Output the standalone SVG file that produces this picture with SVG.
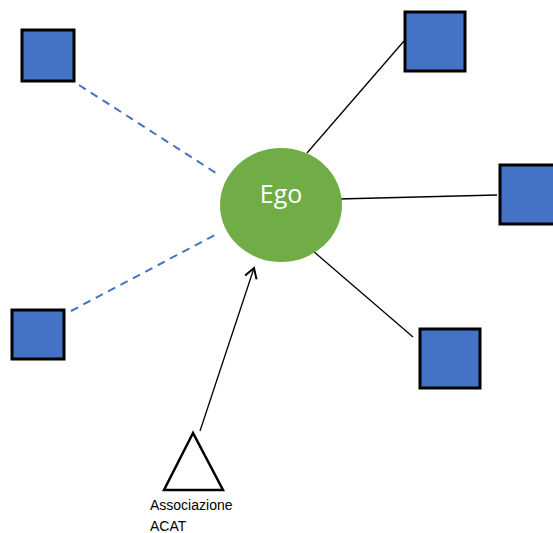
<svg xmlns="http://www.w3.org/2000/svg" width="553" height="533" viewBox="0 0 553 533">
  <style>
    .sq { fill: #4472C4; stroke: #000; stroke-width: 3; }
    .solid { stroke: #000; stroke-width: 1.3; fill: none; }
    .dash { stroke: #4472C4; stroke-width: 2; stroke-dasharray: 8 6; fill: none; }
    .lbl { font-family: "Liberation Sans", Arial, sans-serif; font-size: 14px; fill: #000; }
    .ego { font-family: "Open Sans", "Liberation Sans", sans-serif; font-size: 25px; fill: #fff; }
  </style>
  <defs>
    <marker id="open" markerWidth="14" markerHeight="14" refX="11" refY="7" orient="auto" markerUnits="userSpaceOnUse">
      <path d="M1,1 L11,7 L1,13" fill="none" stroke="#000" stroke-width="2"/>
    </marker>
  </defs>
  <rect width="553" height="533" fill="#fff"/>
  <g id="connectors">
    <line class="dash" x1="79" y1="85" x2="216" y2="173"/>
    <line class="dash" x1="71" y1="311" x2="215" y2="235"/>
    <line class="solid" x1="307" y1="153" x2="404" y2="41"/>
    <line class="solid" x1="338" y1="199" x2="497" y2="195"/>
    <line class="solid" x1="313" y1="251" x2="413" y2="337"/>
    <line class="solid" stroke-width="2" x1="200" y1="431" x2="254" y2="268" marker-end="url(#open)"/>
  </g>
  <g id="ego">
    <ellipse cx="281" cy="205" rx="61" ry="57" fill="#70AD47"/>
    <text class="ego" x="281" y="203" text-anchor="middle">Ego</text>
  </g>
  <g id="alter-top-left"><rect class="sq" x="22" y="30" width="52" height="51"/></g>
  <g id="alter-bottom-left"><rect class="sq" x="12" y="310" width="52" height="49"/></g>
  <g id="alter-top-right"><rect class="sq" x="405" y="12" width="60" height="59"/></g>
  <g id="alter-right"><rect class="sq" x="500" y="165" width="60" height="59"/></g>
  <g id="alter-bottom-right"><rect class="sq" x="420" y="329" width="60" height="59"/></g>
  <g id="acat">
    <polygon points="193,433 164,490 223,490" fill="#fff" stroke="#000" stroke-width="2.5"/>
    <text class="lbl" x="150" y="510">Associazione</text>
    <text class="lbl" x="150" y="531">ACAT</text>
  </g>
</svg>
